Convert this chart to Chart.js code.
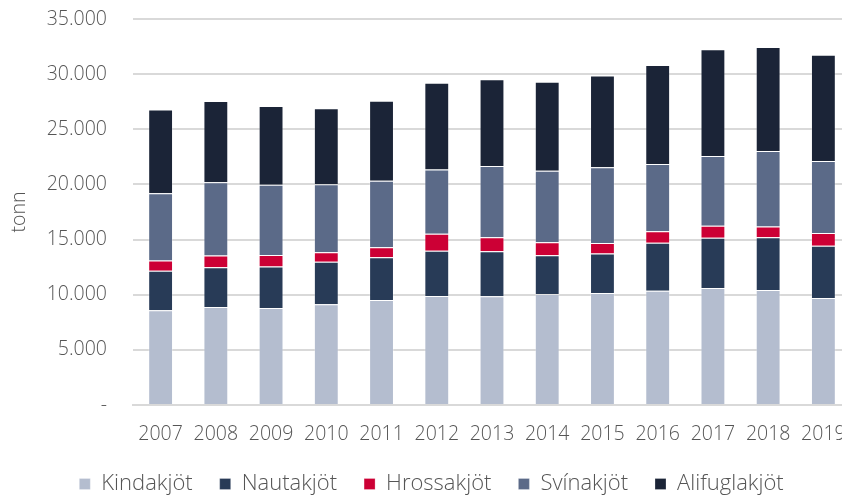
<!DOCTYPE html>
<html>
<head>
<meta charset="utf-8">
<script src="https://cdn.jsdelivr.net/npm/chart.js@4.4.1/dist/chart.umd.min.js"></script>
<style>
  html, body { margin: 0; padding: 0; background: #fff; overflow: hidden; width: 842px; height: 495px; }
  #wrap { width: 863px; height: 505px; }
</style>
</head>
<body>
<div id="wrap"><canvas id="c" width="863" height="505"></canvas></div>
<script>
const years = ['2007','2008','2009','2010','2011','2012','2013','2014','2015','2016','2017','2018','2019'];
const kindakjot   = [8600, 8890, 8800, 9130, 9520, 9880, 9850, 10060, 10160, 10370, 10610, 10430, 9700];
const nautakjot   = [3570, 3600, 3750, 3870, 3870, 4110, 4080, 3510, 3570, 4350, 4560, 4780, 4740];
const hrossakjot  = [940, 1060, 1060, 850, 910, 1540, 1270, 1180, 970, 1030, 1090, 970, 1150];
const svinakjot   = [6100, 6650, 6350, 6170, 6040, 5830, 6470, 6500, 6860, 6100, 6320, 6860, 6530];
const alifuglakjot= [7590, 7370, 7160, 6890, 7250, 7860, 7860, 8070, 8310, 8980, 9670, 9430, 9640];
const seriesNames = ['Kindakjöt','Nautakjöt','Hrossakjöt','Svínakjöt','Alifuglakjöt'];
const seriesColors = ['#b4bdcf','#283b57','#cc0035','#5b6a88','#1b2437'];
const yTicks = [0, 5000, 10000, 15000, 20000, 25000, 30000, 35000];

const fontFamily = "'Open Sans', sans-serif";
const textColor = '#555555';
const seriesData = [kindakjot, nautakjot, hrossakjot, svinakjot, alifuglakjot];

function fmt(v) {
  if (v === 0) return '-';
  return String(v).replace(/\B(?=(\d{3})+(?!\d))/g, '.');
}

new Chart(document.getElementById('c'), {
  type: 'bar',
  data: {
    labels: years,
    datasets: seriesNames.map((n, i) => ({
      label: n,
      data: seriesData[i],
      backgroundColor: seriesColors[i],
      borderColor: 'rgba(255,255,255,0.25)',
      borderWidth: 1,
      categoryPercentage: 1,
      barPercentage: 0.45
    }))
  },
  options: {
    responsive: false,
    animation: false,
    layout: { padding: { top: 19, right: 0, left: 0, bottom: 0 } },
    plugins: {
      tooltip: { enabled: false },
      legend: {
        position: 'bottom',
        labels: {
          boxWidth: 11,
          boxHeight: 11,
          padding: 27,
          color: textColor,
          font: { family: fontFamily, size: 22, weight: 300 }
        }
      }
    },
    scales: {
      x: {
        stacked: true,
        afterFit: (s) => { s.height = 41; s.paddingLeft = 0; s.paddingRight = 12; },
        grid: { display: false, drawTicks: false },
        border: { display: true, color: '#d9d9d9', width: 2 },
        ticks: { color: textColor, padding: 18, font: { family: fontFamily, size: 19.5, weight: 300 }, maxRotation: 0 }
      },
      y: {
        stacked: true,
        min: 0,
        max: 35000,
        afterBuildTicks: (s) => { s.ticks = yTicks.map(v => ({ value: v })); },
        afterFit: (s) => { s.width = 133; s.paddingTop = 0; s.paddingBottom = 0; },
        grid: { color: '#d9d9d9', lineWidth: 2, drawTicks: false },
        border: { display: false },
        title: {
          display: true,
          text: 'tonn',
          color: textColor,
          font: { family: fontFamily, size: 19.5, weight: 300 },
          padding: { top: 8, bottom: 0 }
        },
        ticks: {
          color: textColor,
          padding: 26,
          font: { family: fontFamily, size: 19.5, weight: 300 },
          callback: (v) => fmt(v)
        }
      }
    }
  }
});
</script>
</body>
</html>
